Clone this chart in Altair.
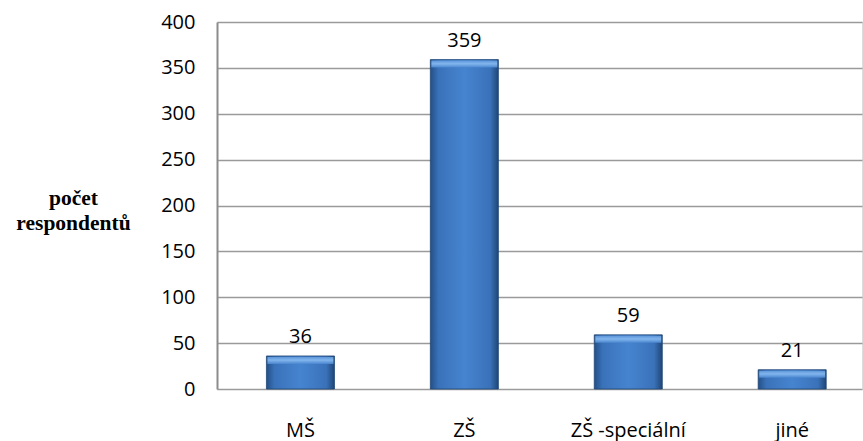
import altair as alt
import pandas as pd

categories = ["MŠ", "ZŠ", "ZŠ -speciální", "jiné"]
values = [36, 359, 59, 21]
y_ticks = [0, 50, 100, 150, 200, 250, 300, 350, 400]

df = pd.DataFrame({"cat": categories, "val": values})

body = alt.Gradient(
    gradient="linear", x1=0, x2=1, y1=0, y2=0,
    stops=[
        alt.GradientStop(color="#244f86", offset=0),
        alt.GradientStop(color="#3a72b9", offset=0.12),
        alt.GradientStop(color="#4684d0", offset=0.5),
        alt.GradientStop(color="#3a72b9", offset=0.88),
        alt.GradientStop(color="#1f4676", offset=1),
    ],
)

cap_fill = alt.Gradient(
    gradient="linear", x1=0, x2=0, y1=0, y2=1,
    stops=[
        alt.GradientStop(color="#5e97dc", offset=0),
        alt.GradientStop(color="#86b9ef", offset=0.45),
        alt.GradientStop(color="#4a86d0", offset=1),
    ],
)

x = alt.X("cat:N", sort=categories, title=None,
          scale=alt.Scale(paddingInner=0.585, paddingOuter=0.26, align=0.58),
          axis=alt.Axis(labelAngle=0, labelFontSize=20, labelFont="Open Sans",
                        labelColor="#000000", labelPadding=31, ticks=False,
                        domain=False, grid=False))
y = alt.Y("val:Q", scale=alt.Scale(domain=[0, 400]),
          axis=alt.Axis(values=y_ticks, title=["počet", "respondentů"],
                        titleFont="Liberation Serif", titleFontSize=21.5,
                        titleFontWeight="bold", titleAngle=0, titleAlign="center",
                        titleBaseline="middle", titleX=-144, titleY=176,
                        titleLineHeight=25, titleColor="#000000",
                        labelFont="Open Sans", labelFontSize=20, labelColor="#000000",
                        labelPadding=22, ticks=False, domainColor="#8c8c8c",
                        domainWidth=2, gridColor="#9a9a9a", gridWidth=1.5))

bars = alt.Chart(df).mark_bar(fill=body, stroke="#1f4676", strokeWidth=0.8).encode(x=x, y=y)

cap = alt.Chart(df).mark_tick(thickness=7, size=66, yOffset=4.5, fill=cap_fill, opacity=0.95).encode(
    x=alt.X("cat:N", sort=categories), y="val:Q")

labels = alt.Chart(df).mark_text(baseline="alphabetic", dy=-13, fontSize=20,
                                 font="Open Sans", color="#000000").encode(
    x=alt.X("cat:N", sort=categories), y="val:Q", text="val:Q")

chart = alt.layer(bars, cap, labels).properties(
    width=645, height=367,
    autosize=alt.AutoSizeParams(type="none"),
    padding={"left": 217, "top": 22, "right": 1, "bottom": 52},
).configure_view(stroke=None).configure(background="#ffffff")

chart.save("out.html", embed_options={"renderer": "svg", "actions": False})
